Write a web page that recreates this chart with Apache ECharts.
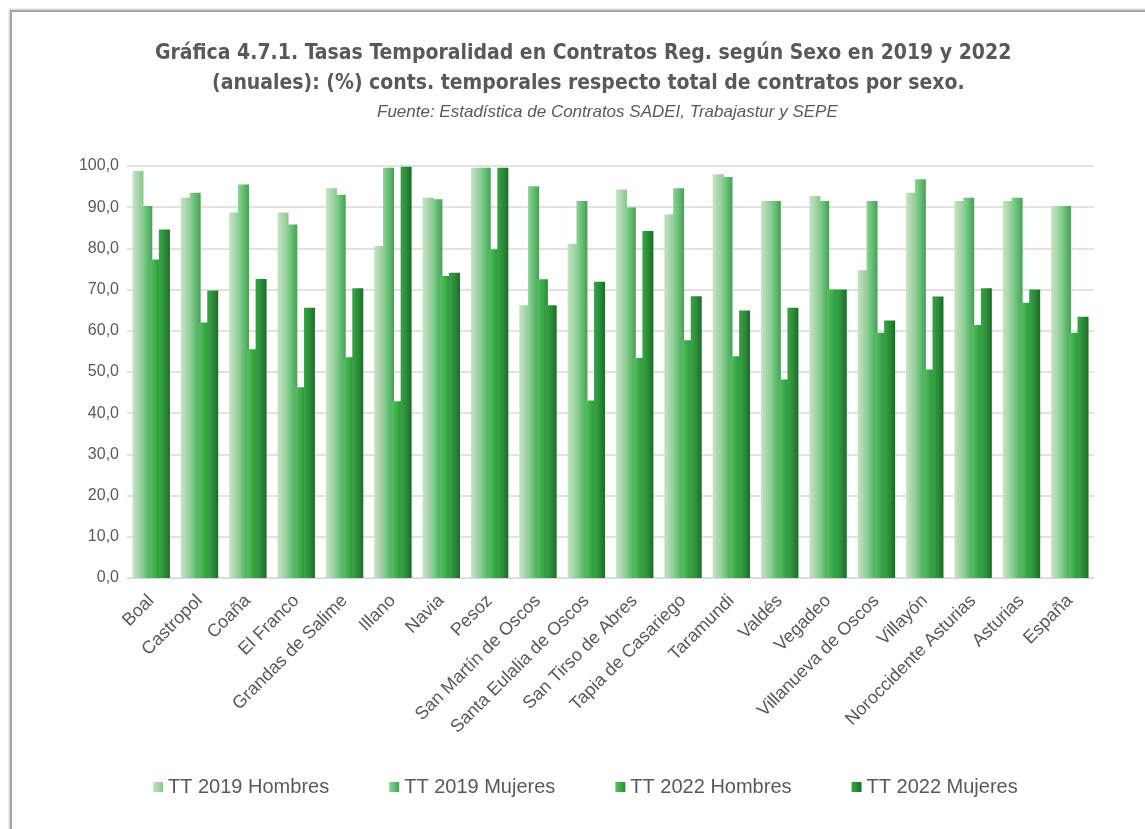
<!DOCTYPE html>
<html>
<head>
<meta charset="utf-8">
<script src="https://cdn.jsdelivr.net/npm/echarts@6/dist/echarts.min.js"></script>
<style>
  html, body { margin: 0; padding: 0; background: #fff; }
  #frame { position: absolute; left: 10px; top: 10px; width: 1150px; height: 840px; border-left: 2px solid #a6a6a6; border-top: 2px solid #a6a6a6; box-shadow: -1px -1px 2px #ccc; }
  #chart { position: absolute; left: 0; top: 0; width: 1145px; height: 829px; }
</style>
</head>
<body>
<div id="frame"></div>
<div id="chart"></div>
<script>
// municipios del occidente
var categories = ['Boal', 'Castropol', 'Coaña', 'El Franco', 'Grandas de Salime', 'Illano', 'Navia', 'Pesoz',
  'San Martín de Oscos', 'Santa Eulalia de Oscos', 'San Tirso de Abres', 'Tapia de Casariego', 'Taramundi',
  'Valdés', 'Vegadeo', 'Villanueva de Oscos', 'Villayón', 'Noroccidente Asturias', 'Asturias', 'España'];

var tt2019Hombres = [98.8, 92.3, 88.7, 88.7, 94.6, 80.6, 92.3, 99.6, 66.2, 81.1, 94.3, 88.3, 98.0, 91.5, 92.7, 74.7, 93.5, 91.5, 91.5, 90.3];
var tt2019Mujeres = [90.3, 93.5, 95.5, 85.8, 93.0, 99.6, 91.9, 99.6, 95.1, 91.5, 89.9, 94.6, 97.3, 91.5, 91.5, 91.5, 96.8, 92.3, 92.3, 90.3];
var tt2022Hombres = [77.3, 62.0, 55.5, 46.3, 53.6, 42.9, 73.3, 79.8, 72.5, 43.1, 53.4, 57.7, 53.8, 48.2, 70.0, 59.5, 50.6, 61.4, 66.8, 59.5];
var tt2022Mujeres = [84.6, 69.8, 72.6, 65.6, 70.3, 99.8, 74.1, 99.6, 66.2, 71.9, 84.2, 68.4, 64.9, 65.6, 70.0, 62.5, 68.3, 70.3, 70.0, 63.4];

var seriesNames = ['TT 2019 Hombres', 'TT 2019 Mujeres', 'TT 2022 Hombres', 'TT 2022 Mujeres'];
var legendColors = ['#a9d5aa', '#6cbf7a', '#3fae4c', '#2a8a38'];
var barGrad = [
  ['#c6e4c6', '#a6d5a7', '#8cc38e'],
  ['#8fd49b', '#62bb70', '#479f55'],
  ['#55c261', '#38a846', '#2a8c37'],
  ['#3aa548', '#2a8a38', '#1c6a27']
];

var FONT = '"Liberation Sans", Arial, sans-serif';
var FONT_B = '"Liberation Sans Narrow", "DejaVu Sans Condensed", sans-serif';

function grad(c) {
  return new echarts.graphic.LinearGradient(0, 0, 1, 0, [
    { offset: 0, color: c[0] },
    { offset: 0.55, color: c[1] },
    { offset: 1, color: c[2] }
  ]);
}

var allData = [tt2019Hombres, tt2019Mujeres, tt2022Hombres, tt2022Mujeres];
var series = allData.map(function (d, i) {
  return {
    name: seriesNames[i],
    type: 'bar',
    data: d,
    barWidth: 11,
    barGap: '-20%',
    color: legendColors[i],
    itemStyle: { color: grad(barGrad[i]) }
  };
});

var titleStyle = { fontFamily: FONT_B, fontSize: 21, fontWeight: 'bold', color: '#595959' };

var chart = echarts.init(document.getElementById('chart'));
chart.setOption({
  animation: false,
  title: [{
    text: 'Gráfica 4.7.1. Tasas Temporalidad en Contratos Reg. según Sexo en 2019 y 2022',
    left: 150, top: 38, textStyle: titleStyle
  }, {
    text: '(anuales): (%) conts. temporales respecto total de contratos por sexo.',
    left: 207, top: 68, textStyle: titleStyle
  }, {
    text: 'Fuente: Estadística de Contratos SADEI, Trabajastur y SEPE',
    left: 372,
    top: 99,
    textStyle: { fontFamily: FONT, fontSize: 17, fontStyle: 'italic', fontWeight: 'normal', color: '#595959' }
  }],
  legend: {
    data: seriesNames,
    bottom: 27,
    left: 148,
    itemWidth: 10,
    itemHeight: 10,
    itemGap: 60,
    icon: 'rect',
    textStyle: { fontFamily: FONT, fontSize: 20, color: '#595959' }
  },
  grid: { left: 127, right: 51, top: 166, bottom: 251, containLabel: false },
  xAxis: {
    type: 'category',
    data: categories,
    axisTick: { show: false },
    axisLine: { lineStyle: { color: '#d9d9d9' } },
    axisLabel: { rotate: 45, interval: 0, margin: 20, fontFamily: FONT, fontSize: 18, color: '#595959' }
  },
  yAxis: {
    type: 'value',
    min: 0,
    max: 100,
    interval: 10,
    axisLine: { show: false },
    axisTick: { show: false },
    splitLine: { lineStyle: { color: '#d9d9d9', width: 1.5 } },
    axisLabel: {
      fontFamily: FONT, fontSize: 16, color: '#595959', margin: 8,
      formatter: function (v) { return v.toFixed(1).replace('.', ','); }
    }
  },
  series: series
});
</script>
</body>
</html>
